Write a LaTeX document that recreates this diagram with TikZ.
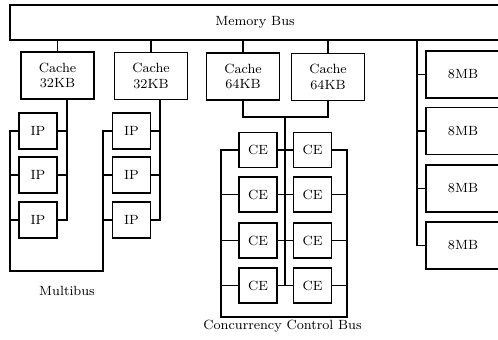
\documentclass[tikz,border=0pt]{standalone}
\begin{document}
\begin{tikzpicture}[x=0.02cm,y=-0.02cm,
  every node/.style={font=\fontsize{7.6}{8.6}\selectfont},
  box/.style={draw,line width=0.7pt,inner sep=0pt,align=center},
  cachebox/.style={box,minimum width=1.46cm,minimum height=0.94cm},
  ipbox/.style={box,minimum width=0.76cm,minimum height=0.72cm},
  cebox/.style={box,minimum width=0.76cm,minimum height=0.70cm},
  membox/.style={box,minimum width=1.48cm,minimum height=0.94cm},
  wire/.style={line width=0.7pt},
  lbl/.style={inner sep=0pt}]
\useasboundingbox (0,0) rectangle (498,340);
% memory bus
\node[box,minimum width=9.8cm,minimum height=0.7cm] (mb) at (255,22.5) {Memory Bus};
% caches
\node[cachebox] (c1) at (57.5,75.5) {Cache\\32KB};
\node[cachebox] (c2) at (151,76) {Cache\\32KB};
\node[cachebox] (c3) at (243,76.5) {Cache\\64KB};
\node[cachebox] (c4) at (328,77) {Cache\\64KB};
\foreach \c in {c1,c2,c3,c4} \draw[wire] (\c.north) -- (\c.north |- mb.south);
% IP columns
\foreach \r/\y in {1/131,2/175,3/220} {
  \node[ipbox] (ipa\r) at (38,\y) {IP};
  \node[ipbox] (ipb\r) at (131.5,\y) {IP};
}
\coordinate (ra) at (67,0);
\coordinate (rb) at (160,0);
\coordinate (la) at (10,0);
\coordinate (lb) at (103,0);
\coordinate (mbot) at (0,271);
\draw[wire] (c1.south -| ra) |- (ipa3.east);
\draw[wire] (c2.south -| rb) |- (ipb3.east);
\foreach \r in {1,2} {
  \draw[wire] (ipa\r.east) -- (ipa\r.east -| ra);
  \draw[wire] (ipb\r.east) -- (ipb\r.east -| rb);
}
\draw[wire] (ipa1.west) -- (la |- ipa1.west) -- (la |- mbot) -- (lb |- mbot) -- (lb |- ipb1.west) -- (ipb1.west);
\foreach \r in {2,3} {
  \draw[wire] (ipa\r.west) -- (ipa\r.west -| la);
  \draw[wire] (ipb\r.west) -- (ipb\r.west -| lb);
}
\node[lbl] (mlbl) at (67,291) {Multibus};
% CE array
\foreach \r/\y in {1/150,2/194.5,3/240.5,4/285.5} {
  \node[cebox] (cel\r) at (258,\y) {CE};
  \node[cebox] (cer\r) at (312.5,\y) {CE};
  \draw[wire] (cel\r.east) -- (cer\r.west);
}
\coordinate (jn) at (0,117);
\coordinate (mid) at (285,0);
\draw[wire] (c3.south) -- (c3.south |- jn) -- (c4.south |- jn) -- (c4.south);
\draw[wire] (mid |- jn) -- (mid |- cel4.east);
\coordinate (ccl) at (221,0);
\coordinate (ccr) at (347,0);
\coordinate (ccb) at (0,317);
\draw[wire] (cel1.west) -- (ccl |- cel1.west) -- (ccl |- ccb) -- (ccr |- ccb) -- (ccr |- cer1.east) -- (cer1.east);
\foreach \r in {2,3,4} {
  \draw[wire] (cel\r.west) -- (cel\r.west -| ccl);
  \draw[wire] (cer\r.east) -- (cer\r.east -| ccr);
}
\node[lbl] (clbl) at (282.5,326) {Concurrency Control Bus};
% memory modules
\foreach \r/\y in {1/74.5,2/131,3/188.5,4/245.5} {
  \node[membox] (m\r) at (463,\y) {8MB};
}
\coordinate (mv) at (417,0);
\draw[wire] (mb.south -| mv) |- (m4.west);
\foreach \r in {1,2,3} \draw[wire] (m\r.west) -- (m\r.west -| mv);
\end{tikzpicture}
\end{document}
